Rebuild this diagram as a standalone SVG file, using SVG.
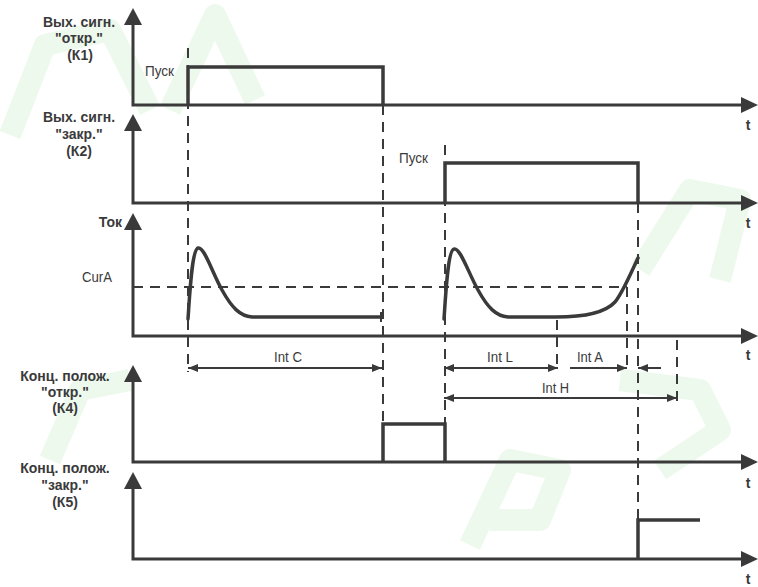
<svg xmlns="http://www.w3.org/2000/svg" width="758" height="587" viewBox="0 0 758 587">
<style>
.ax{stroke:#3a3a3a;stroke-width:3;fill:none}
.ah{fill:#3a3a3a}
.sig{stroke:#3a3a3a;stroke-width:3.5;fill:none;stroke-linejoin:miter}
.cur{stroke:#3a3a3a;stroke-width:3.5;fill:none;stroke-linecap:round}
.dash{stroke:#3a3a3a;stroke-width:2;fill:none;stroke-dasharray:10 7}
.dim{stroke:#3a3a3a;stroke-width:2;fill:none}
.lbl{font-family:"Liberation Sans",Arial,sans-serif;font-weight:bold;font-size:14px;fill:#3a3a3a;text-anchor:middle}
.txt{font-family:"Liberation Sans",Arial,sans-serif;font-size:14px;fill:#3a3a3a}
.t{font-family:"Liberation Sans",Arial,sans-serif;font-weight:bold;font-size:14px;fill:#3a3a3a;text-anchor:middle}
.wm{stroke:#d6f1d6;stroke-width:22;fill:none;opacity:0.45;stroke-linejoin:round}
</style>
<defs>
<marker id="arr" viewBox="0 0 10 8" refX="10" refY="4" markerWidth="10" markerHeight="8" markerUnits="userSpaceOnUse" orient="auto-start-reverse">
<path d="M0,0 L10,4 L0,8 Z" fill="#3a3a3a"/>
</marker>
</defs>
<rect width="758" height="587" fill="#ffffff"/>
<g id="watermark">
<path class="wm" d="M10,135 L45,45 L110,30 L150,110"/>
<path class="wm" d="M170,110 L215,15 L255,100"/>
<path class="wm" d="M50,460 L80,390 L130,380"/>
<path class="wm" d="M620,380 L700,390 L720,430 L660,470"/>
<path class="wm" d="M470,545 L510,460 L560,470 L540,520 L490,520"/>
<path class="wm" d="M640,270 L690,190 L740,200 L720,280"/>
</g>
<g id="axes">
<path class="ax" d="M133,24 V105 H744"/>
<path class="ax" d="M133,130 V203 H744"/>
<path class="ax" d="M133,229 V336 H744"/>
<path class="ax" d="M133,381 V462 H744"/>
<path class="ax" d="M133,488 V559 H744"/>
<polygon class="ah" points="133,8 124,25 142,25"/>
<polygon class="ah" points="133,114 124,131 142,131"/>
<polygon class="ah" points="133,213 124,230 142,230"/>
<polygon class="ah" points="133,365 124,382 142,382"/>
<polygon class="ah" points="133,472 124,489 142,489"/>
<polygon class="ah" points="758,105 741,97 741,113"/>
<polygon class="ah" points="758,203 741,195 741,211"/>
<polygon class="ah" points="758,336 741,328 741,344"/>
<polygon class="ah" points="758,462 741,454 741,470"/>
<polygon class="ah" points="758,559 741,551 741,567"/>
</g>
<g id="axis-labels">
<text class="lbl" x="79" y="27">Вых. сигн.</text>
<text class="lbl" x="79" y="43">"откр."</text>
<text class="lbl" x="80" y="60">(К1)</text>
<text class="lbl" x="79" y="122">Вых. сигн.</text>
<text class="lbl" x="79" y="139">"закр."</text>
<text class="lbl" x="79" y="156">(К2)</text>
<text class="lbl" x="122" y="227" style="text-anchor:end">Ток</text>
<text class="lbl" x="65" y="381">Конц. полож.</text>
<text class="lbl" x="65" y="397">"откр."</text>
<text class="lbl" x="65" y="413">(К4)</text>
<text class="lbl" x="65" y="473">Конц. полож.</text>
<text class="lbl" x="65" y="490">"закр."</text>
<text class="lbl" x="65" y="507">(К5)</text>
<text class="t" x="748" y="130">t</text>
<text class="t" x="748" y="228">t</text>
<text class="t" x="748" y="360">t</text>
<text class="t" x="748" y="488">t</text>
<text class="t" x="748" y="584">t</text>
</g>
<g id="signals">
<path class="sig" d="M188,105 V67 H383 V105"/>
<path class="sig" d="M445,203 V163 H638 V203"/>
<path class="sig" d="M383,462 V424 H445 V462"/>
<path class="sig" d="M638,559 V520 H700"/>
<path class="cur" d="M188,319 C190,290 192,250 198,248 C204,246 212,272 222,290 C232,308 240,316 252,317 L381,317"/>
<path class="dim" d="M381,312 V322"/>
<path class="cur" d="M444,319 C446,290 448,250 454,249 C460,247 468,272 478,290 C488,308 496,316 508,317 L556,317 C585,317 605,313 615,302 C622,294 630,275 638,258"/>
<text class="txt" x="145" y="76" textLength="29" lengthAdjust="spacingAndGlyphs">Пуск</text>
<text class="txt" x="399" y="163" textLength="29" lengthAdjust="spacingAndGlyphs">Пуск</text>
<text class="txt" x="82" y="282" textLength="30" lengthAdjust="spacingAndGlyphs">CurA</text>
</g>
<g id="connectors">
<path class="dash" d="M133,287 H627"/>
<path class="dash" d="M188,48 V372"/>
<path class="dash" d="M383,105 V424"/>
<path class="dash" d="M445,145 V424"/>
<path class="dash" d="M638,203 V520"/>
<path class="dash" d="M557,320 V370"/>
<path class="dash" d="M627,287 V372"/>
<path class="dash" d="M677,340 V402"/>
<path class="dim" d="M188,368 H382" marker-start="url(#arr)" marker-end="url(#arr)"/>
<path class="dim" d="M444,368 H558" marker-start="url(#arr)" marker-end="url(#arr)"/>
<path class="dim" d="M570,368 H627" marker-end="url(#arr)"/>
<path class="dim" d="M661,368 H638" marker-end="url(#arr)"/>
<path class="dim" d="M444,398 H677" marker-start="url(#arr)" marker-end="url(#arr)"/>
<text class="txt" x="274" y="362" textLength="28" lengthAdjust="spacingAndGlyphs">Int C</text>
<text class="txt" x="487" y="362" textLength="26" lengthAdjust="spacingAndGlyphs">Int L</text>
<text class="txt" x="577" y="362" textLength="26" lengthAdjust="spacingAndGlyphs">Int A</text>
<text class="txt" x="542" y="393" textLength="27" lengthAdjust="spacingAndGlyphs">Int H</text>
</g>
</svg>
